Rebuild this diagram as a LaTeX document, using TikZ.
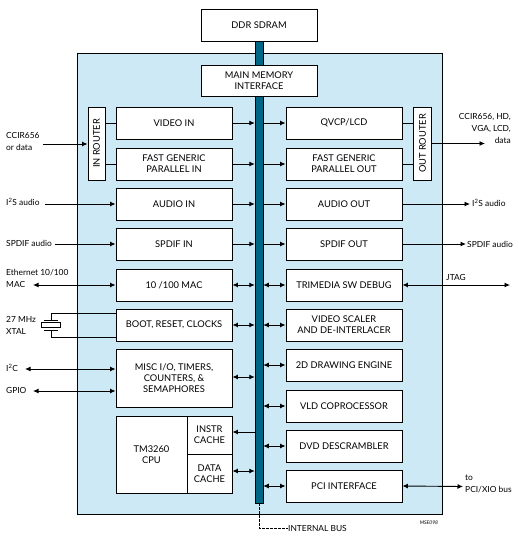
\documentclass[tikz,border=0pt]{standalone}
\usepackage{fontspec}
\setmainfont{Lato}
\usetikzlibrary{arrows.meta}
\definecolor{chipblue}{RGB}{204,233,245}
\definecolor{busteal}{RGB}{0,102,133}
\tikzset{
  blk/.style={draw=black, line width=0.9pt, fill=white, minimum width=116pt, minimum height=32pt, inner sep=0pt, align=center, font=\fontsize{9.3}{11}\selectfont},
  conn/.style={line width=0.9pt},
  tip/.style={conn, -{Latex[length=5.5pt,width=5pt]}},
  bitip/.style={conn, {Latex[length=5.5pt,width=5pt]}-{Latex[length=5.5pt,width=5pt]}},
  ext/.style={inner sep=0pt, align=left, font=\fontsize{8.4}{12}\selectfont},
}
\begin{document}
\begin{tikzpicture}[x=1pt,y=-1pt]
\useasboundingbox (0,0) rectangle (519,541);
% chip outline
\node[draw=black, line width=0.9pt, fill=chipblue, minimum width=365pt, minimum height=461pt, inner sep=0pt] (chip) at (259.5,283.5) {};
% bus
\node[draw=black, line width=0.5pt, fill=busteal, minimum width=8pt, minimum height=462pt, inner sep=0pt] (bus) at (259,272) {};
% top boxes
\node[blk] (ddr) at (259,25) {DDR SDRAM};
\node[blk, minimum height=31pt] (mmi) at (259,80.5) {MAIN MEMORY\\INTERFACE};
% routers
\node[blk, minimum width=17pt, minimum height=73pt] (inr) at (96.5,143.5) {};
\node[rotate=90, font=\fontsize{9.3}{11}\selectfont] at (inr) {IN ROUTER};
\node[blk, minimum width=18pt, minimum height=73pt] (outr) at (422.5,143.5) {};
\node[rotate=90, font=\fontsize{9.3}{11}\selectfont] at (outr) {OUT ROUTER};
% left column
\node[blk] (vin) at (174,123) {VIDEO IN};
\node[blk] (fin) at (174,164) {FAST GENERIC\\PARALLEL IN};
\node[blk] (ain) at (174,204) {AUDIO IN};
\node[blk] (sin) at (174,244) {SPDIF IN};
\node[blk] (mac) at (174,285) {10 /100 MAC};
\node[blk] (boot) at (174,325) {BOOT, RESET, CLOCKS};
\node[blk, minimum height=58pt] (misc) at (174,378) {MISC I/O, TIMERS,\\COUNTERS, \&\\SEMAPHORES};
\node[blk, minimum width=71pt, minimum height=77pt] (cpu) at (151.5,454.5) {TM3260\\CPU};
\node[blk, minimum width=45pt, minimum height=38pt] (icache) at (209.5,435) {INSTR\\CACHE};
\node[blk, minimum width=45pt, minimum height=39pt] (dcache) at (209.5,473.5) {DATA\\CACHE};
% right column
\node[blk] (qvcp) at (344,123) {QVCP/LCD};
\node[blk] (fout) at (344,164) {FAST GENERIC\\PARALLEL OUT};
\node[blk] (aout) at (344,204) {AUDIO OUT};
\node[blk] (sout) at (344,244) {SPDIF OUT};
\node[blk] (trim) at (344,285) {TRIMEDIA SW DEBUG};
\node[blk] (vsc) at (344,325) {VIDEO SCALER\\AND DE-INTERLACER};
\node[blk] (d2) at (344,365) {2D DRAWING ENGINE};
\node[blk] (vld) at (344,406) {VLD COPROCESSOR};
\node[blk] (dvd) at (344,446) {DVD DESCRAMBLER};
\node[blk] (pci) at (344,486) {PCI INTERFACE};
% router links
\draw[conn] (inr.east |- vin.west) -- (vin.west);
\draw[conn] (inr.east |- fin.west) -- (fin.west);
\draw[conn] (qvcp.east) -- (outr.west |- qvcp.east);
\draw[conn] (fout.east) -- (outr.west |- fout.east);
% bus connections left
\draw[tip] (vin.east) -- (vin.east -| bus.west);
\draw[tip] (fin.east) -- (fin.east -| bus.west);
\draw[tip] (ain.east) -- (ain.east -| bus.west);
\draw[tip] (sin.east) -- (sin.east -| bus.west);
\draw[bitip] (mac.east) -- (mac.east -| bus.west);
\draw[bitip] (boot.east) -- (boot.east -| bus.west);
\draw[bitip] ([yshift=1pt]misc.east) -- ([yshift=1pt]misc.east -| bus.west);
\draw[tip] ([yshift=3pt]icache.east -| bus.west) -- ([yshift=3pt]icache.east);
\draw[bitip] ([yshift=2.5pt]dcache.east) -- ([yshift=2.5pt]dcache.east -| bus.west);
% bus connections right
\draw[tip] (qvcp.west -| bus.east) -- (qvcp.west);
\draw[tip] (fout.west -| bus.east) -- (fout.west);
\draw[tip] (aout.west -| bus.east) -- (aout.west);
\draw[tip] (sout.west -| bus.east) -- (sout.west);
\draw[bitip] (trim.west -| bus.east) -- (trim.west);
\draw[bitip] (vsc.west -| bus.east) -- (vsc.west);
\draw[bitip] (d2.west -| bus.east) -- (d2.west);
\draw[bitip] (vld.west -| bus.east) -- (vld.west);
\draw[bitip] (dvd.west -| bus.east) -- (dvd.west);
\draw[bitip] (pci.west -| bus.east) -- (pci.west);
% external left
\node[ext, anchor=west] (lccir) at (6,141) {CCIR656\\or data};
\coordinate (cin) at (43,144);
\draw[tip] (cin) -- (inr.west |- cin);
\node[ext, anchor=west] (li2s) at (6,202) {I\textsuperscript{2}S audio};
\coordinate (i2sin) at (45,204);
\draw[tip] (i2sin) -- (ain.west);
\node[ext, anchor=west] (lspdif) at (6,243) {SPDIF audio};
\coordinate (spin) at (55,244);
\draw[tip] (spin) -- (sin.west);
\node[ext, anchor=west] (leth) at (6,278.5) {Ethernet 10/100\\MAC};
\coordinate (ethc) at (33,285);
\draw[bitip] (ethc) -- (mac.west);
\node[ext, anchor=west] (lxtal) at (6,325) {27 MHz\\XTAL};
\coordinate (xt) at (51,313);
\coordinate (xb) at (51,337);
\draw[conn] (boot.west |- xt) -- (xt) -- (51,320);
\draw[conn] (44,320) -- (58,320);
\draw[conn] (41,322.5) rectangle (60,327.5);
\draw[conn] (44,330) -- (58,330);
\draw[conn] (51,330) -- (xb) -- (boot.west |- xb);
\node[ext, anchor=west] (li2c) at (6,368) {I\textsuperscript{2}C};
\coordinate (i2cc) at (25,369);
\draw[bitip] (i2cc) -- (misc.west |- i2cc);
\node[ext, anchor=west] (lgpio) at (6,390.5) {GPIO};
\coordinate (gpioc) at (33,391);
\draw[bitip] (gpioc) -- (misc.west |- gpioc);
% external right
\coordinate (cout) at (485,143.5);
\draw[tip] (outr.east |- cout) -- (cout);
\node[ext, anchor=north east, align=right] (lcout) at (511,113) {CCIR656, HD,\\VGA, LCD,\\data};
\coordinate (i2so) at (470,204);
\draw[tip] (aout.east) -- (i2so);
\node[ext, anchor=west] (li2so) at (472,203) {I\textsuperscript{2}S audio};
\coordinate (spo) at (466,244);
\draw[tip] (sout.east) -- (spo);
\node[ext, anchor=west] (lspo) at (467,244) {SPDIF audio};
\coordinate (jt) at (510,285);
\draw[bitip] (trim.east) -- (jt);
\node[ext, anchor=south west] (ljtag) at (446,281) {JTAG};
\coordinate (pcio) at (463,486.5);
\draw[bitip] (pci.east) -- (pcio);
\node[ext, anchor=west] (lpci) at (465,484) {to\\PCI/XIO bus};
% internal bus label
\coordinate (ib) at (288,528);
\draw[line width=0.7pt, dash pattern=on 2.5pt off 1.5pt] (bus.south) -- (bus.south |- ib) -- (ib);
\node[ext, anchor=west] (lib) at (ib) {INTERNAL BUS};
\node[inner sep=0pt, font=\fontsize{5}{6}\selectfont\itshape] (mse) at (429,523) {MSE098};
\end{tikzpicture}
\end{document}
